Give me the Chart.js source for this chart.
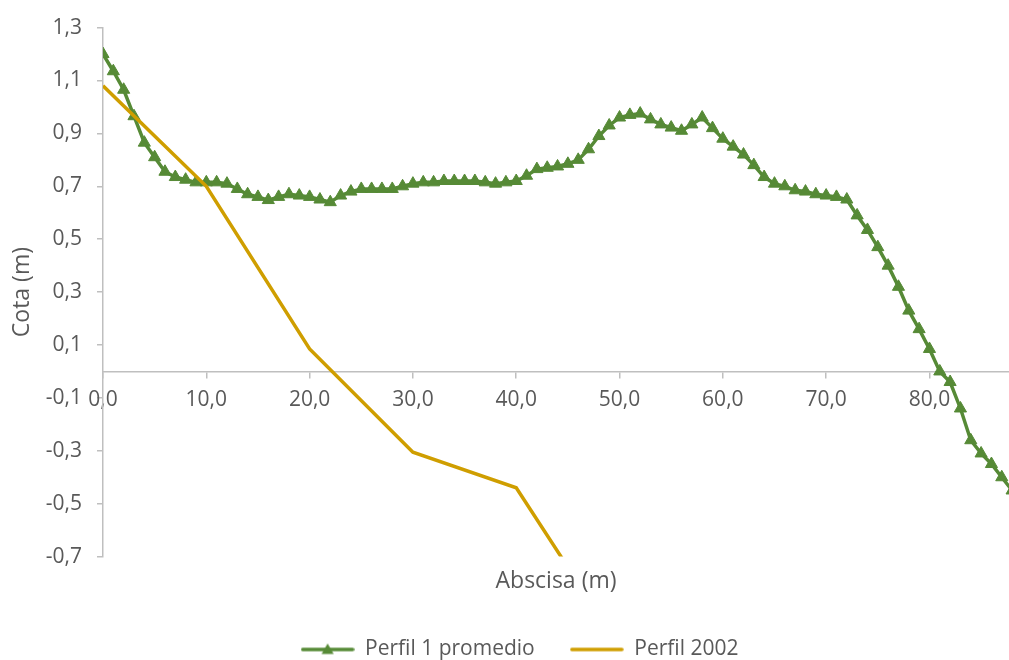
<!DOCTYPE html>
<html>
<head>
<meta charset="utf-8">
<script src="https://cdn.jsdelivr.net/npm/chart.js@4/dist/chart.umd.min.js"></script>
<style>
  html, body { margin: 0; padding: 0; background: #ffffff; }
  #wrap { width: 1009px; height: 660px; }
</style>
</head>
<body>
<div id="wrap"><canvas id="c" width="1009" height="660"></canvas></div>
<script>
// Abscisas (m) del perfil medido
const abscisas1 = [0, 1, 2, 3, 4, 5, 6, 7, 8, 9, 10, 11, 12, 13, 14, 15, 16, 17, 18, 19,
  20, 21, 22, 23, 24, 25, 26, 27, 28, 29, 30, 31, 32, 33, 34, 35, 36, 37, 38, 39,
  40, 41, 42, 43, 44, 45, 46, 47, 48, 49, 50, 51, 52, 53, 54, 55, 56, 57, 58, 59,
  60, 61, 62, 63, 64, 65, 66, 67, 68, 69, 70, 71, 72, 73, 74, 75, 76, 77, 78, 79,
  80, 81, 82, 83, 84, 85, 86, 87, 88];
// Cota (m) - Perfil 1 promedio
const perfil1 = [1.20, 1.135, 1.065, 0.965, 0.865, 0.81, 0.755, 0.735, 0.725, 0.715,
  0.715, 0.715, 0.71, 0.69, 0.67, 0.66, 0.648, 0.66, 0.67, 0.665,
  0.66, 0.65, 0.64, 0.665, 0.68, 0.69, 0.69, 0.69, 0.69, 0.70,
  0.71, 0.715, 0.715, 0.72, 0.72, 0.72, 0.72, 0.715, 0.71, 0.715,
  0.72, 0.74, 0.765, 0.77, 0.775, 0.785, 0.80, 0.84, 0.89, 0.93,
  0.96, 0.97, 0.975, 0.953, 0.934, 0.922, 0.91, 0.934, 0.96, 0.92,
  0.88, 0.85, 0.82, 0.78, 0.735, 0.71, 0.70, 0.685, 0.68, 0.67,
  0.665, 0.66, 0.65, 0.59, 0.535, 0.47, 0.40, 0.32, 0.23, 0.16,
  0.085, 0.0, -0.04, -0.14, -0.26, -0.31, -0.35, -0.40, -0.45];

// Perfil 2002
const abscisas2 = [0, 10, 20, 30, 40, 50];
const perfil2002 = [1.08, 0.70, 0.085, -0.305, -0.44, -1.04];

// Marcas de los ejes
const yTicks = [-0.7, -0.5, -0.3, -0.1, 0.1, 0.3, 0.5, 0.7, 0.9, 1.1, 1.3];
const xTicks = [0, 10, 20, 30, 40, 50, 60, 70, 80];

const GREEN = '#568A36';
const GOLD = '#CF9E00';
const TEXT = '#595959';
const AXIS = '#BFBFBF';
const FONT = '"Open Sans", "Liberation Sans", sans-serif';

const fmt = v => v.toFixed(1).replace('.', ',');
const toPoints = (xs, ys) => xs.map((x, i) => ({ x: x, y: ys[i] }));

// Muestras de la leyenda: linea con o sin marcador triangular
function swatch(color, lineWidth, marker) {
  const c = document.createElement('canvas');
  c.width = 54; c.height = 18;
  const g = c.getContext('2d');
  g.strokeStyle = color; g.lineWidth = lineWidth; g.lineCap = 'round';
  g.beginPath(); g.moveTo(2, 9); g.lineTo(52, 9); g.stroke();
  if (marker) {
    const r = 7, cx = 27, cy = 10;
    g.fillStyle = color;
    g.beginPath();
    g.moveTo(cx, cy - r);
    g.lineTo(cx + r * Math.sin(2 * Math.PI / 3), cy - r * Math.cos(2 * Math.PI / 3));
    g.lineTo(cx + r * Math.sin(4 * Math.PI / 3), cy - r * Math.cos(4 * Math.PI / 3));
    g.closePath(); g.fill();
  }
  return c;
}
const swatches = [swatch(GREEN, 3.5, true), swatch(GOLD, 3.5, false)];

new Chart(document.getElementById('c'), {
  type: 'scatter',
  data: {
    datasets: [
      {
        label: 'Perfil 1 promedio',
        data: toPoints(abscisas1, perfil1),
        showLine: true,
        borderColor: GREEN,
        backgroundColor: GREEN,
        borderWidth: 3.5,
        pointStyle: 'triangle',
        pointRadius: 7,
        pointBorderWidth: 1,
        pointBorderColor: GREEN,
        pointBackgroundColor: GREEN,
        tension: 0,
        order: 1,
        xAxisID: 'x',
        yAxisID: 'y'
      },
      {
        label: 'Perfil 2002',
        data: toPoints(abscisas2, perfil2002),
        showLine: true,
        borderColor: GOLD,
        backgroundColor: GOLD,
        borderWidth: 3.5,
        pointRadius: 0,
        tension: 0,
        clip: 0,
        order: 0,
        xAxisID: 'x',
        yAxisID: 'y'
      }
    ]
  },
  options: {
    responsive: false,
    animation: false,
    devicePixelRatio: 1,
    layout: { autoPadding: false, padding: { top: 21, left: 30, right: 0, bottom: -10 } },
    scales: {
      x: {
        type: 'linear',
        position: { y: 0 },
        min: 0,
        max: 87.7,
        afterBuildTicks: s => { s.ticks = xTicks.map(v => ({ value: v })); },
        ticks: {
          color: TEXT,
          font: { family: FONT, size: 21 },
          padding: 10,
          maxRotation: 0,
          autoSkip: false,
          callback: v => fmt(v)
        },
        grid: { drawOnChartArea: false, drawTicks: true, tickLength: 6, color: AXIS, lineWidth: 1.5 },
        border: { display: true, color: AXIS, width: 1.5 }
      },
      xt: {
        type: 'linear',
        position: 'bottom',
        min: 0,
        max: 1,
        ticks: { display: false },
        grid: { display: false, drawTicks: false },
        border: { display: false },
        title: {
          display: true,
          text: 'Abscisa (m)',
          color: TEXT,
          font: { family: FONT, size: 23 },
          padding: { top: 0, bottom: 9 }
        },
        afterFit: s => { s.height = 47.4; }
      },
      y: {
        type: 'linear',
        position: 'left',
        min: -0.7,
        max: 1.3,
        afterBuildTicks: s => { s.ticks = yTicks.map(v => ({ value: v })); },
        afterFit: s => { s.width = 73; },
        ticks: {
          color: TEXT,
          font: { family: FONT, size: 21 },
          padding: 15,
          autoSkip: false,
          callback: v => fmt(v)
        },
        grid: { drawOnChartArea: false, drawTicks: true, tickLength: 6, color: AXIS, lineWidth: 1.5 },
        border: { display: true, color: AXIS, width: 1.5 },
        title: {
          display: true,
          text: 'Cota (m)',
          color: TEXT,
          font: { family: FONT, size: 23 },
          padding: { top: -21.8, bottom: 0 }
        }
      }
    },
    plugins: {
      tooltip: { enabled: false },
      legend: {
        display: true,
        position: 'bottom',
        labels: {
          color: TEXT,
          font: { family: FONT, size: 21 },
          padding: 35,
          usePointStyle: true,
          pointStyleWidth: 54,
          sort: (a, b) => a.datasetIndex - b.datasetIndex,
          generateLabels(chart) {
            const items = Chart.defaults.plugins.legend.labels.generateLabels(chart);
            items.forEach(it => { it.pointStyle = swatches[it.datasetIndex]; });
            return items;
          }
        }
      }
    }
  }
});
</script>
</body>
</html>
